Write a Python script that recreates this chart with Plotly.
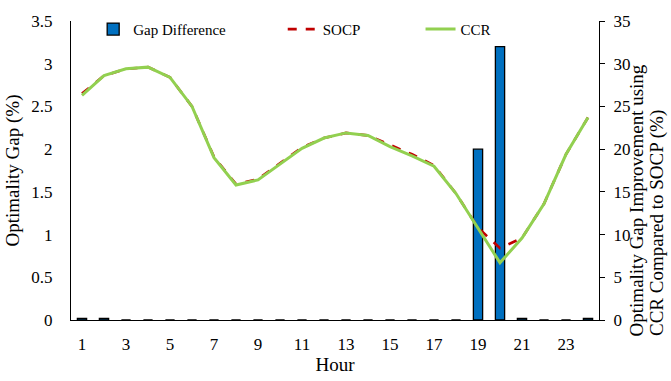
import plotly.graph_objects as go

# Hourly optimality gap (%) for the two relaxations, plus the improvement (%) of CCR over SOCP
hours = list(range(1, 25))
socp = [2.65, 2.86, 2.94, 2.96, 2.84, 2.50, 1.91, 1.59, 1.65, 1.84, 2.02, 2.13,
        2.19, 2.16, 2.05, 1.94, 1.81, 1.48, 1.08, 0.84, 0.96, 1.36, 1.94, 2.37]
ccr = [2.63, 2.86, 2.94, 2.96, 2.84, 2.50, 1.90, 1.58, 1.64, 1.83, 2.01, 2.13,
       2.19, 2.16, 2.03, 1.92, 1.80, 1.48, 1.08, 0.67, 0.96, 1.36, 1.94, 2.37]
gap_diff = [0.2, 0.2, 0, 0, 0, 0, 0, 0, 0, 0, 0, 0,
            0, 0, 0, 0, 0, 0, 20, 32, 0.2, 0, 0, 0.2]
x_ticks = list(range(1, 25, 2))
left_ticks = [0, 0.5, 1, 1.5, 2, 2.5, 3, 3.5]
left_tick_text = ["0", "0.5", "1", "1.5", "2", "2.5", "3", "3.5"]
right_ticks = [0, 5, 10, 15, 20, 25, 30, 35]
right_title_lines = ["Optimality Gap Improvement using", "CCR Compared to SOCP (%)"]

FONT = "Liberation Serif"

fig = go.Figure()

fig.add_trace(go.Bar(
    x=hours, y=gap_diff, name="Gap Difference", yaxis="y",
    marker=dict(color="#0070C0", line=dict(color="#000000", width=1.3)),
    width=0.42, legend="legend", showlegend=True,
))
fig.add_trace(go.Scatter(
    x=hours, y=socp, name="SOCP", yaxis="y2", mode="lines",
    line=dict(color="#C00000", width=2.6, dash="dash"), legend="legend2",
))
fig.add_trace(go.Scatter(
    x=hours, y=ccr, name="CCR", yaxis="y2", mode="lines",
    line=dict(color="#92D050", width=3), legend="legend3",
))

legend_common = dict(orientation="h", yanchor="middle", xanchor="left",
                     font=dict(family=FONT, size=15, color="#000000"),
                     bgcolor="rgba(0,0,0,0)", itemwidth=30)

# Right-hand axis title, two lines laid out bottom-aligned beside the tick labels
for xpos, line_text in zip([1.071, 1.110], right_title_lines):
    fig.add_annotation(
        text=line_text, xref="paper", yref="paper", x=xpos, y=-0.06,
        xanchor="center", yanchor="bottom", textangle=-90, showarrow=False,
        font=dict(family=FONT, size=19, color="#000000"),
    )

fig.update_layout(
    width=671, height=381,
    margin=dict(l=67, r=72, t=16, b=43),
    paper_bgcolor="white", plot_bgcolor="white",
    font=dict(family=FONT, color="#000000"),
    showlegend=True,
    xaxis=dict(
        range=[0.5, 24.5], tickvals=x_ticks, ticktext=[str(v) for v in x_ticks],
        showgrid=False, zeroline=False, showline=True, linecolor="#000000", linewidth=1.3,
        ticks="", ticklabelstandoff=8,
        tickfont=dict(family=FONT, size=17),
        title=dict(text="Hour", font=dict(family=FONT, size=19), standoff=2),
    ),
    yaxis=dict(
        side="right", range=[0, 35], tickvals=right_ticks,
        showgrid=False, zeroline=False, showline=True, linecolor="#000000", linewidth=1.3,
        ticks="outside", ticklen=5, tickcolor="#000000", tickwidth=1.3,
        ticklabelstandoff=5,
        tickfont=dict(family=FONT, size=17),
    ),
    yaxis2=dict(
        side="left", overlaying="y", range=[0, 3.5],
        tickvals=left_ticks, ticktext=left_tick_text,
        showgrid=False, zeroline=False, showline=True, linecolor="#000000", linewidth=1.3,
        ticks="", ticklabelstandoff=14,
        tickfont=dict(family=FONT, size=17),
        title=dict(text="Optimality Gap (%)", font=dict(family=FONT, size=19), standoff=6),
    ),
    legend=dict(x=0.042, y=0.972, **legend_common),
    legend2=dict(x=0.401, y=0.972, **legend_common),
    legend3=dict(x=0.662, y=0.972, **legend_common),
)

fig.write_html("out.html")
